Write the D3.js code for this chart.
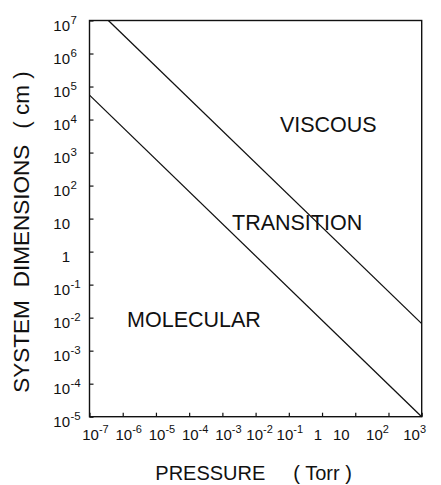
<!DOCTYPE html>
<html>
<head>
<meta charset="utf-8">
<script src="https://cdn.jsdelivr.net/npm/d3@7/dist/d3.min.js"></script>
<style>
  html, body { margin: 0; padding: 0; background: #fff; }
  svg { display: block; }
  text { font-family: "Liberation Sans", Arial, Helvetica, sans-serif; fill: #111; }
</style>
</head>
<body>
<svg id="chart" width="441" height="485"></svg>
<script>
// ---- data ----
const xTickValues = [1e-7, 1e-6, 1e-5, 1e-4, 1e-3, 1e-2, 1e-1, 1, 10, 1e2, 1e3];
const xTickBase   = ["10", "10", "10", "10", "10", "10", "10", "1", "10", "10", "10"];
const xTickExp    = ["-7", "-6", "-5", "-4", "-3", "-2", "-1", "", "", "2", "3"];

const yTickValues = [1e7, 1e6, 1e5, 1e4, 1e3, 1e2, 10, 1, 1e-1, 1e-2, 1e-3, 1e-4, 1e-5];
const yTickBase   = ["10", "10", "10", "10", "10", "10", "10", "1", "10", "10", "10", "10", "10"];
const yTickExp    = ["7", "6", "5", "4", "3", "2", "", "", "-1", "-2", "-3", "-4", "-5"];

// boundary lines (pressure in Torr, dimension in cm)
const upperPressure = [3.7e-7, 1e3];
const upperDimension = [1e7, 6.6e-3];
const lowerPressure = [1e-7, 1e3];
const lowerDimension = [5.5e4, 1e-5];

// regime labels
const regionNames = ["VISCOUS", "TRANSITION", "MOLECULAR"];
const regionPressure = [5.4e-2, 1.95e-3, 1.35e-6];
const regionDimension = [4.2e3, 4.5, 5.2e-3];

const xTitle = ["PRESSURE", "( Torr )"];
const yTitle = ["SYSTEM", "DIMENSIONS", "( cm )"];

// ---- layout ----
const mLeft = 89.5, mRight = 421.7, mTop = 20.5, mBottom = 416.7;
const xLabelNudge = [6, 6, 6, 6, 6, 4, 1, -4, -14, -11, -7];

const svg = d3.select("#chart");
const x = d3.scaleLog().domain([1e-7, 1e3]).range([mLeft, mRight]);
const y = d3.scaleLog().domain([1e-5, 1e7]).range([mBottom, mTop]);

// ticks (inward)
const gx = svg.append("g").attr("transform", `translate(0,${mBottom})`)
  .call(d3.axisBottom(x).tickValues(xTickValues).tickSize(-4).tickFormat(""));
const gy = svg.append("g").attr("transform", `translate(${mLeft},0)`)
  .call(d3.axisLeft(y).tickValues(yTickValues).tickSize(-4).tickFormat(""));
[gx, gy].forEach(g => {
  g.select(".domain").remove();
  g.selectAll(".tick line").attr("stroke", "#111").attr("stroke-width", 1.2);
});

// frame
svg.append("rect")
  .attr("x", mLeft).attr("y", mTop)
  .attr("width", mRight - mLeft).attr("height", mBottom - mTop)
  .attr("fill", "none").attr("stroke", "#111").attr("stroke-width", 1.4);

// x tick labels
xTickValues.forEach((v, i) => {
  const t = svg.append("text")
    .attr("x", x(v) + xLabelNudge[i]).attr("y", mBottom + 23.5)
    .attr("text-anchor", "middle").attr("font-size", 15);
  t.append("tspan").text(xTickBase[i]);
  if (xTickExp[i]) t.append("tspan").attr("dy", -7).attr("font-size", 11).text(xTickExp[i]);
});

// y tick labels
yTickValues.forEach((v, i) => {
  svg.append("text")
    .attr("x", mLeft - 19.5).attr("y", y(v) + 10.5)
    .attr("text-anchor", "end").attr("font-size", 15)
    .text(yTickBase[i]);
  if (yTickExp[i]) {
    svg.append("text")
      .attr("x", mLeft - 19).attr("y", y(v) + 3)
      .attr("text-anchor", "start").attr("font-size", 11.5)
      .text(yTickExp[i]);
  }
});

// boundary lines
const line = d3.line().x(d => x(d[0])).y(d => y(d[1]));
[[upperPressure, upperDimension], [lowerPressure, lowerDimension]].forEach(([P, D]) => {
  svg.append("path")
    .datum(P.map((p, i) => [p, D[i]]))
    .attr("d", line)
    .attr("fill", "none").attr("stroke", "#111").attr("stroke-width", 1.3);
});

// region labels
regionNames.forEach((n, i) => {
  svg.append("text")
    .attr("x", x(regionPressure[i])).attr("y", y(regionDimension[i]))
    .attr("font-size", 21.5).text(n);
});

// axis titles
const xt = svg.append("text")
  .attr("x", (mLeft + mRight) / 2 - 2).attr("y", 480)
  .attr("text-anchor", "middle").attr("font-size", 20);
xt.append("tspan").text(xTitle[0]);
xt.append("tspan").attr("dx", 28).text(xTitle[1]);

const yt = svg.append("text")
  .attr("transform", `translate(29,232) rotate(-90)`)
  .attr("text-anchor", "middle").attr("font-size", 22.5);
yt.append("tspan").text(yTitle[0]);
yt.append("tspan").attr("dx", 13).text(yTitle[1]);
yt.append("tspan").attr("dx", 16).text(yTitle[2]);
</script>
</body>
</html>
